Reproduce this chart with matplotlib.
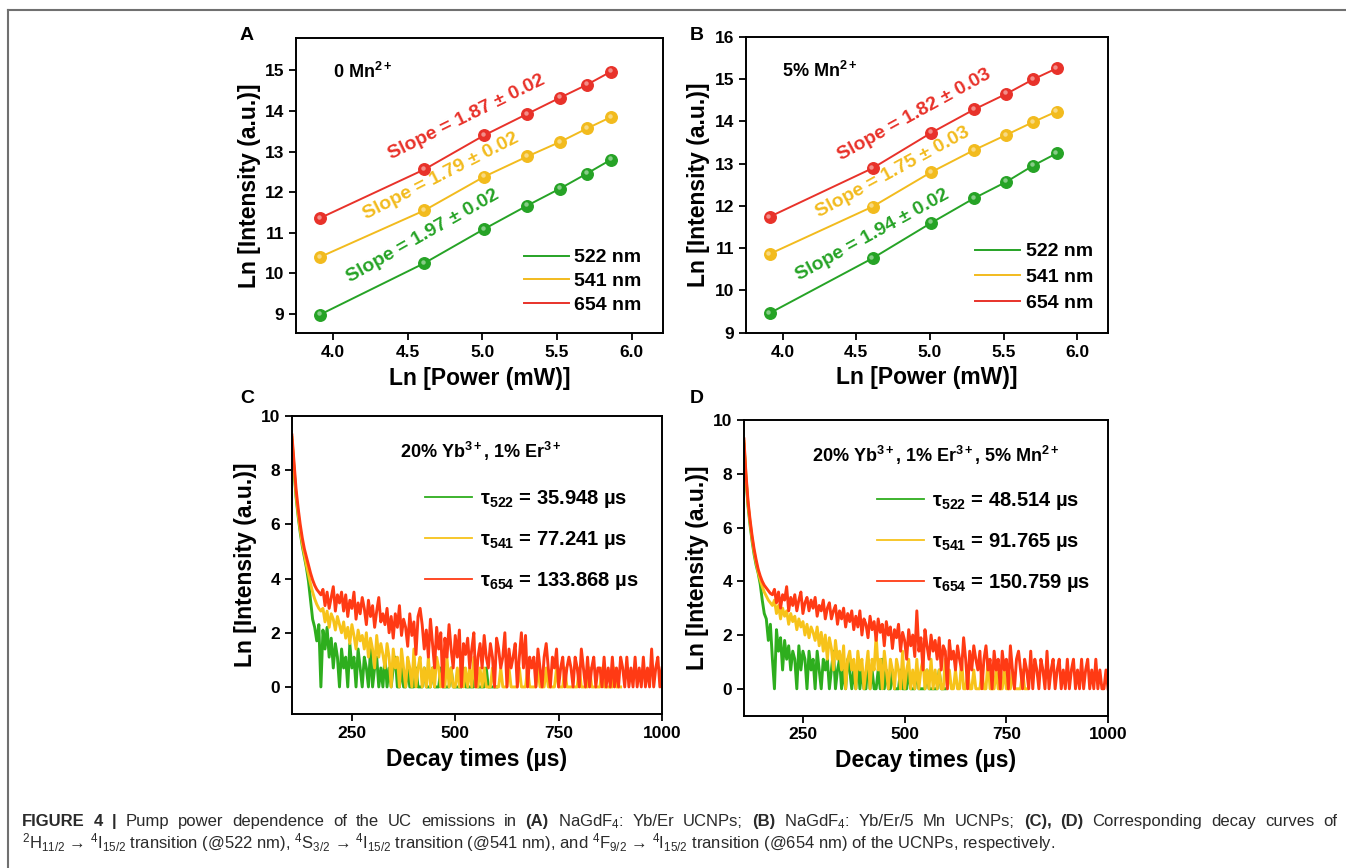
import matplotlib
matplotlib.use("Agg")
import matplotlib.pyplot as plt
import matplotlib.transforms as mtransforms
from matplotlib.lines import Line2D
import numpy as np

plt.rcParams['font.family'] = ['Liberation Sans', 'DejaVu Sans']
plt.rcParams['mathtext.fontset'] = 'custom'
plt.rcParams['mathtext.rm'] = 'Liberation Sans'
plt.rcParams['mathtext.it'] = 'Liberation Sans:italic'
plt.rcParams['mathtext.bf'] = 'Liberation Sans:bold'
plt.rcParams['mathtext.sf'] = 'Liberation Sans'
plt.rcParams['mathtext.fallback'] = 'stixsans'

# ---- pump power dependence (panels A, B) ----
power_ln = [3.91, 4.61, 5.01, 5.30, 5.52, 5.70, 5.86]
a_522 = [8.98, 10.25, 11.09, 11.67, 12.09, 12.46, 12.80]
a_541 = [10.40, 11.55, 12.38, 12.88, 13.24, 13.57, 13.85]
a_654 = [11.36, 12.56, 13.40, 13.93, 14.33, 14.65, 14.97]
b_522 = [9.46, 10.76, 11.60, 12.18, 12.57, 12.95, 13.24]
b_541 = [10.86, 11.98, 12.80, 13.32, 13.68, 13.98, 14.23]
b_654 = [11.74, 12.89, 13.73, 14.28, 14.65, 14.99, 15.25]
a_slopes = ["1.97 ± 0.02", "1.79 ± 0.02", "1.87 ± 0.02"]
b_slopes = ["1.94 ± 0.02", "1.75 ± 0.03", "1.82 ± 0.03"]
wavelengths = ["522 nm", "541 nm", "654 nm"]

# ---- decay curves (panels C, D), 5 us bins starting at 105 us ----
decay_t0, decay_dt = 105, 5
c_654 = [9.3, 8.3, 7.3, 6.6, 6.0, 5.5, 5.1, 4.8, 4.5, 4.2,
         3.95, 3.75, 3.6, 3.5, 3.4, 3.6, 3.0, 3.5, 2.9, 3.3,
         3.7, 2.8, 3.4, 3.1, 3.5, 2.8, 3.4, 2.6, 3.2, 2.9,
         3.5, 2.5, 3.1, 2.7, 3.3, 2.9, 2.3, 3.2, 2.6, 3.0,
         2.2, 2.8, 3.3, 2.4, 2.7, 2.3, 2.9, 2.0, 2.6, 1.8,
         2.7, 2.2, 3.0, 1.9, 2.5, 2.2, 1.5, 2.7, 1.9, 2.4,
         1.2, 2.6, 2.9, 2.3, 1.4, 2.1, 1.1, 2.5, 1.6, 0.7,
         2.2, 1.4, 2.0, 0.0, 1.8, 1.1, 2.3, 1.4, 0.7, 1.9,
         1.1, 2.1, 0.0, 1.6, 1.2, 1.8, 0.7, 1.4, 2.0, 0.0,
         1.1, 1.6, 0.7, 1.9, 1.1, 0.7, 1.6, 1.1, 0.0, 1.8,
         1.4, 0.7, 1.1, 2.0, 0.0, 1.4, 0.7, 1.1, 1.6, 0.0,
         1.1, 2.0, 0.7, 1.9, 0.0, 1.1, 0.7, 1.1, 0.0, 1.4,
         0.7, 0.0, 1.1, 1.6, 0.7, 0.0, 1.1, 0.7, 1.4, 0.0,
         0.7, 1.1, 0.0, 0.7, 1.1, 0.7, 0.0, 1.1, 0.7, 0.0,
         1.4, 0.7, 0.0, 1.1, 0.0, 0.7, 1.1, 0.0, 0.7, 0.7,
         0.0, 1.1, 0.0, 0.7, 0.0, 1.1, 0.0, 0.7, 0.0, 1.1,
         0.7, 0.0, 1.1, 0.0, 0.7, 0.0, 1.1, 0.0, 0.7, 0.0,
         1.1, 0.0, 0.7, 0.0, 1.4, 0.0, 0.7, 1.1, 0.0, 0.7]
c_541 = [9.2, 8.1, 7.1, 6.4, 5.8, 5.3, 4.9, 4.5, 4.15, 3.8,
         3.5, 3.25, 3.05, 2.9, 2.8, 2.9, 2.4, 2.8, 2.2, 2.7,
         2.5, 2.1, 2.6, 2.3, 2.0, 2.4, 1.8, 2.2, 1.6, 2.3,
         1.9, 1.4, 2.1, 1.7, 1.9, 1.4, 2.0, 1.1, 1.8, 1.4,
         0.7, 1.9, 1.1, 1.6, 1.2, 0.7, 1.6, 1.1, 0.0, 1.4,
         0.7, 1.1, 0.0, 1.4, 0.7, 0.0, 1.1, 0.7, 0.0, 1.4,
         0.0, 0.7, 1.1, 0.0, 0.7, 0.0, 1.1, 0.0, 0.7, 0.0,
         1.1, 0.7, 0.0, 0.7, 0.0, 1.1, 0.0, 0.7, 0.0, 0.0,
         0.7, 0.0, 1.1, 0.0, 0.7, 0.0, 0.7, 0.0, 1.1, 0.0,
         0.0, 0.7, 0.0, 0.7, 0.0, 0.0, 0.0, 0.7, 0.0, 0.0,
         0.0, 0.7, 0.0, 0.0, 0.0, 0.7, 0.0, 0.0, 0.0, 0.0,
         0.7, 0.0, 0.0, 0.0, 0.7, 0.0, 0.0, 0.0, 0.0, 0.7,
         0.0, 0.0, 0.0, 0.7, 0.0, 0.0, 0.0, 0.0, 0.7, 0.0,
         0.0, 0.0, 0.7, 0.0, 0.0, 0.0, 0.0, 0.0, 0.0, 0.7,
         0.0, 0.0, 0.0, 0.0, 0.7, 0.0, 0.0, 0.0, 0.0, 0.0,
         0.7, 0.0, 0.0, 0.0, 0.0, 0.0, 0.7, 0.0, 0.0, 0.0]
c_522 = [9.1, 8.0, 7.0, 6.3, 5.7, 5.2, 4.8, 4.4, 3.9, 3.2,
         2.5, 2.2, 1.7, 2.3, 0.0, 2.1, 1.4, 2.2, 1.1, 1.8,
         0.7, 1.6, 1.1, 0.0, 1.4, 0.7, 1.1, 0.0, 1.6, 0.7,
         1.1, 0.0, 1.4, 0.7, 0.0, 1.1, 0.7, 0.0, 1.4, 0.0,
         0.7, 1.1, 0.0, 0.7, 0.0, 1.1, 0.0, 0.7, 0.0, 0.7,
         1.1, 0.0, 0.0, 0.7, 0.0, 0.0, 0.7, 0.0, 0.0, 0.0,
         0.7, 0.0, 0.0, 0.0, 0.7, 0.0, 0.0, 0.0, 0.7, 0.0,
         0.0, 0.0, 0.7, 0.0, 0.0, 0.0, 0.0, 0.7, 0.0, 0.0,
         0.0, 0.0, 0.0, 0.7, 0.0, 0.0, 0.0, 0.0, 0.0, 0.7,
         0.0, 0.0, 0.0, 0.0, 0.7, 0.0, 0.0, 0.0, 0.0, 0.0]
d_654 = [9.3, 8.0, 7.0, 6.3, 5.7, 5.2, 4.8, 4.45, 4.2, 4.0,
         3.85, 3.75, 3.65, 3.55, 3.5, 3.7, 3.2, 3.6, 3.0, 3.5,
         3.3, 3.8, 2.9, 3.4, 3.1, 3.5, 2.9, 3.3, 3.6, 2.8,
         3.2, 3.4, 2.9, 3.3, 3.0, 3.4, 2.7, 3.1, 2.9, 3.3,
         2.6, 3.0, 3.2, 2.6, 2.9, 3.1, 2.4, 2.9, 2.6, 3.0,
         2.3, 2.8, 2.5, 2.9, 2.2, 2.7, 2.3, 2.9, 2.0, 2.6,
         2.4, 1.9, 2.7, 2.2, 2.5, 1.8, 2.6, 2.1, 2.4, 1.6,
         2.5, 2.0, 2.3, 1.5, 2.2, 1.9, 2.4, 1.4, 2.1, 1.8,
         1.1, 2.2, 1.6, 2.0, 1.2, 2.9, 1.4, 1.9, 0.7, 2.2,
         1.6, 1.1, 2.0, 1.4, 1.8, 1.1, 1.9, 0.7, 1.6, 1.4,
         0.0, 1.8, 1.1, 1.4, 0.7, 1.6, 1.1, 0.7, 1.9, 1.1,
         0.0, 1.4, 0.7, 1.6, 1.1, 0.7, 1.4, 0.0, 1.1, 1.6,
         0.7, 1.1, 0.0, 1.4, 0.7, 1.1, 0.0, 1.4, 0.7, 1.1,
         0.0, 1.6, 0.7, 0.0, 1.1, 1.4, 0.7, 0.0, 1.1, 0.7,
         0.0, 1.4, 0.0, 1.1, 0.7, 0.0, 1.1, 0.7, 0.0, 1.4,
         0.0, 0.7, 1.1, 0.0, 0.7, 1.1, 0.0, 0.7, 0.0, 1.1,
         0.0, 0.7, 1.1, 0.0, 0.7, 0.0, 1.1, 0.0, 0.7, 1.1,
         0.0, 0.7, 0.0, 1.1, 0.0, 0.7, 0.0, 0.0, 0.7, 0.0]
d_541 = [9.2, 7.9, 6.9, 6.2, 5.6, 5.1, 4.7, 4.35, 4.05, 3.8,
         3.6, 3.45, 3.3, 3.2, 3.1, 3.3, 2.8, 3.1, 2.6, 3.0,
         2.7, 2.9, 2.4, 2.8, 2.5, 2.7, 2.2, 2.6, 2.3, 2.5,
         2.0, 2.4, 1.9, 2.3, 2.1, 1.8, 2.3, 1.6, 2.1, 1.4,
         2.0, 1.1, 1.9, 1.5, 0.7, 1.8, 1.1, 1.4, 0.7, 1.6,
         0.0, 1.1, 1.4, 0.7, 1.1, 0.0, 1.4, 0.7, 1.1, 0.0,
         0.7, 1.4, 0.0, 1.1, 0.7, 2.0, 0.7, 1.1, 0.0, 1.4,
         0.7, 0.0, 1.1, 0.7, 0.0, 1.1, 0.7, 0.0, 1.4, 0.0,
         0.7, 1.1, 0.0, 0.7, 0.0, 1.1, 0.0, 0.7, 1.1, 0.0,
         0.7, 0.0, 1.1, 0.0, 0.7, 0.0, 0.7, 0.0, 0.0, 1.1,
         0.0, 0.7, 0.0, 0.0, 0.7, 0.0, 0.0, 1.1, 0.0, 0.0,
         0.7, 0.0, 0.0, 0.7, 0.0, 0.0, 0.0, 0.7, 0.0, 0.0,
         1.1, 0.0, 0.0, 0.0, 0.7, 0.0, 0.0, 0.0, 0.7, 0.0,
         0.0, 0.0, 0.7, 0.0, 0.0, 0.0, 0.0, 0.7, 0.0, 0.0]
d_522 = [9.1, 7.8, 6.8, 6.1, 5.5, 5.0, 4.6, 4.3, 3.9, 3.3,
         2.8, 2.6, 1.8, 2.4, 1.1, 0.0, 2.2, 1.4, 1.9, 0.7,
         1.8, 1.1, 1.6, 0.7, 1.4, 1.1, 0.0, 1.6, 0.7, 1.4,
         1.1, 0.0, 1.4, 0.7, 1.1, 0.0, 1.4, 0.7, 0.0, 1.1,
         0.7, 1.1, 0.0, 0.7, 1.4, 0.0, 0.7, 1.1, 0.0, 0.7,
         0.0, 1.1, 0.7, 0.0, 0.7, 0.0, 1.1, 0.0, 0.7, 0.0,
         0.0, 1.1, 0.0, 0.7, 0.0, 0.0, 0.7, 0.0, 1.1, 0.0,
         0.7, 0.0, 0.0, 0.7, 0.0, 0.0, 0.0, 0.7, 0.0, 0.0,
         0.0, 0.7, 0.0, 0.0, 0.0, 0.7, 0.0, 0.0, 0.0, 0.0,
         0.7, 0.0, 0.0, 0.0, 0.0, 0.0, 0.7, 0.0, 0.0, 0.0]
c_taus = ["35.948", "77.241", "133.868"]
d_taus = ["48.514", "91.765", "150.759"]

pw_colors = ['#26a326', '#f2bb1e', '#e8322a']
dc_colors = ['#2eae1e', '#f7c31a', '#ff3a14']

fig = plt.figure(figsize=(13.46, 8.68), dpi=100)

# outer frame of the page (top and left rules)
fig.add_artist(Line2D([8/1346, 1], [1-10/868, 1-10/868], transform=fig.transFigure, color='#707070', lw=1.5))
fig.add_artist(Line2D([8/1346, 8/1346], [0, 1-10/868], transform=fig.transFigure, color='#707070', lw=1.5))


def style_axes(ax):
    for s in ax.spines.values():
        s.set_linewidth(1.4)
    ax.tick_params(direction='out', length=5, width=1.3, labelsize=12.5, top=False, right=False)
    for lab in ax.get_xticklabels() + ax.get_yticklabels():
        lab.set_fontweight('bold')


def power_panel(rect, ys, slopes, slope_pos, note, ylim, yticks, leg_anchor, spacing):
    ax = fig.add_axes(rect)
    for y, c, lab in zip(ys, pw_colors, wavelengths):
        ax.plot(power_ln, y, '-', color=c, lw=1.4, label=lab, zorder=2)
        ax.plot(power_ln, y, 'o', ms=8.3, color=c, mec=c, zorder=3)
        hl = mtransforms.offset_copy(ax.transData, fig=fig, x=-1.3, y=1.3, units='dots')
        ax.plot(power_ln, y, 'o', ms=3.2, color='white', alpha=0.45, mec='none', transform=hl, zorder=4)
    for s, (px, py, rot), c in zip(slopes, slope_pos, pw_colors):
        ax.text(px, py, f"Slope = {s}", color=c, fontsize=14, fontweight='bold',
                rotation=rot, rotation_mode='anchor', ha='center', va='center')
    ax.text(0.10, 0.885, note, transform=ax.transAxes, fontsize=13, fontweight='bold', va='center')
    ax.set_xlim(3.75, 6.21)
    ax.set_ylim(*ylim)
    ax.set_xticks([4.0, 4.5, 5.0, 5.5, 6.0])
    ax.set_yticks(yticks)
    ax.set_xlabel("Ln [Power (mW)]", fontsize=16.5, fontweight='bold', labelpad=5)
    ax.set_ylabel("Ln [Intensity (a.u.)]", fontsize=16.5, fontweight='bold', labelpad=3)
    leg = ax.legend(loc='lower right', bbox_to_anchor=leg_anchor, frameon=False, fontsize=14,
                    handlelength=2.3, handletextpad=0.3, labelspacing=spacing, borderpad=0, borderaxespad=0)
    for t in leg.get_texts():
        t.set_fontweight('bold')
    style_axes(ax)
    return ax


def decay_panel(rect, curves, taus, note, note_x, leg_anchor):
    ax = fig.add_axes(rect)
    for y, c, wl, tau in zip(curves, dc_colors, ["522", "541", "654"], taus):
        t = decay_t0 + decay_dt * np.arange(len(y))
        ax.plot(t, y, '-', color=c, lw=2.1, label=f"τ$_{{\\mathbf{{{wl}}}}}$ = {tau} µs")
    ax.text(note_x, 0.88, note, transform=ax.transAxes, fontsize=13, fontweight='bold',
            ha='center', va='center')
    ax.set_xlim(105, 1000)
    ax.set_ylim(-1, 10)
    ax.set_xticks([250, 500, 750, 1000])
    ax.set_yticks([0, 2, 4, 6, 8, 10])
    ax.set_xlabel("Decay times (µs)", fontsize=16.5, fontweight='bold', labelpad=5)
    ax.set_ylabel("Ln [Intensity (a.u.)]", fontsize=16.5, fontweight='bold', labelpad=3)
    leg = ax.legend(loc='lower right', bbox_to_anchor=leg_anchor, frameon=False, fontsize=14.5,
                    handlelength=2.3, handletextpad=0.4, labelspacing=0.95, borderpad=0, borderaxespad=0)
    for t in leg.get_texts():
        t.set_fontweight('bold')
    for h in leg.legend_handles:
        h.set_linewidth(1.3)
    style_axes(ax)
    return ax


power_panel([0.2199, 0.6164, 0.2727, 0.3398], [a_522, a_541, a_654], a_slopes,
            [(4.60, 10.91, 29.5), (4.72, 12.39, 27.0), (4.89, 13.84, 26.2)],
            "0 Mn$^{\\mathbf{2+}}$", (8.53, 15.8), [9, 10, 11, 12, 13, 14, 15], (0.942, 0.064), 0.32)
power_panel([0.5542, 0.6167, 0.2690, 0.3410], [b_522, b_541, b_654], b_slopes,
            [(4.607, 11.31, 28.8), (4.748, 12.79, 28.5), (4.896, 14.15, 28.9)],
            "5% Mn$^{\\mathbf{2+}}$", (9, 16), [9, 10, 11, 12, 13, 14, 15, 16], (0.959, 0.07), 0.42)
decay_panel([0.2169, 0.1774, 0.2749, 0.3433], [c_522, c_541, c_654], c_taus,
            "20% Yb$^{\\mathbf{3+}}$, 1% Er$^{\\mathbf{3+}}$", 0.51, (0.936, 0.41))
decay_panel([0.5527, 0.1755, 0.2705, 0.3406], [d_522, d_541, d_654], d_taus,
            "20% Yb$^{\\mathbf{3+}}$, 1% Er$^{\\mathbf{3+}}$, 5% Mn$^{\\mathbf{2+}}$", 0.527, (0.95, 0.41))

# panel letters
for lab, x, y in [("A", 247, 35), ("B", 697, 35), ("C", 247, 398), ("D", 697, 398)]:
    fig.text(x/1346, 1 - y/868, lab, fontsize=14, fontweight='bold', ha='center', va='center')

# caption, first line justified between the page margins
cap1_words = [("FIGURE", 'bold'), ("4", 'bold'), ("|", 'bold'), ("Pump", 'normal'), ("power", 'normal'),
              ("dependence", 'normal'), ("of", 'normal'), ("the", 'normal'), ("UC", 'normal'),
              ("emissions", 'normal'), ("in", 'normal'), ("(A)", 'bold'), ("NaGdF$_{\\mathrm{4}}$:", 'normal'),
              ("Yb/Er", 'normal'), ("UCNPs;", 'normal'), ("(B)", 'bold'), ("NaGdF$_{\\mathrm{4}}$:", 'normal'),
              ("Yb/Er/5", 'normal'), ("Mn", 'normal'), ("UCNPs;", 'normal'), ("(C),", 'bold'), ("(D)", 'bold'),
              ("Corresponding", 'normal'), ("decay", 'normal'), ("curves", 'normal'), ("of", 'normal')]
cap2 = ("${}^{\\mathrm{2}}$H$_{\\mathrm{11/2}}$ → ${}^{\\mathrm{4}}$I$_{\\mathrm{15/2}}$ transition (@522 nm), "
        "${}^{\\mathrm{4}}$S$_{\\mathrm{3/2}}$ → ${}^{\\mathrm{4}}$I$_{\\mathrm{15/2}}$ transition (@541 nm), and "
        "${}^{\\mathrm{4}}$F$_{\\mathrm{9/2}}$ → ${}^{\\mathrm{4}}$I$_{\\mathrm{15/2}}$ transition (@654 nm) "
        "of the UCNPs, respectively.")
cap_color = '#2a2a2a'
renderer = fig.canvas.get_renderer()
word_artists = []
for w, wt in cap1_words:
    word_artists.append(fig.text(0, 1 - 826/868, w, fontsize=12, fontweight=wt, color=cap_color,
                                 ha='left', va='baseline'))
widths = [a.get_window_extent(renderer).width for a in word_artists]
x_left, x_right = 22, 1337
gap = (x_right - x_left - sum(widths)) / (len(widths) - 1)
x = x_left
for a, wdt in zip(word_artists, widths):
    a.set_x(x / 1346)
    x += wdt + gap
fig.text(22/1346, 1 - 848/868, cap2, fontsize=12, color=cap_color, ha='left', va='baseline')

fig.savefig("out.png", dpi=100)
